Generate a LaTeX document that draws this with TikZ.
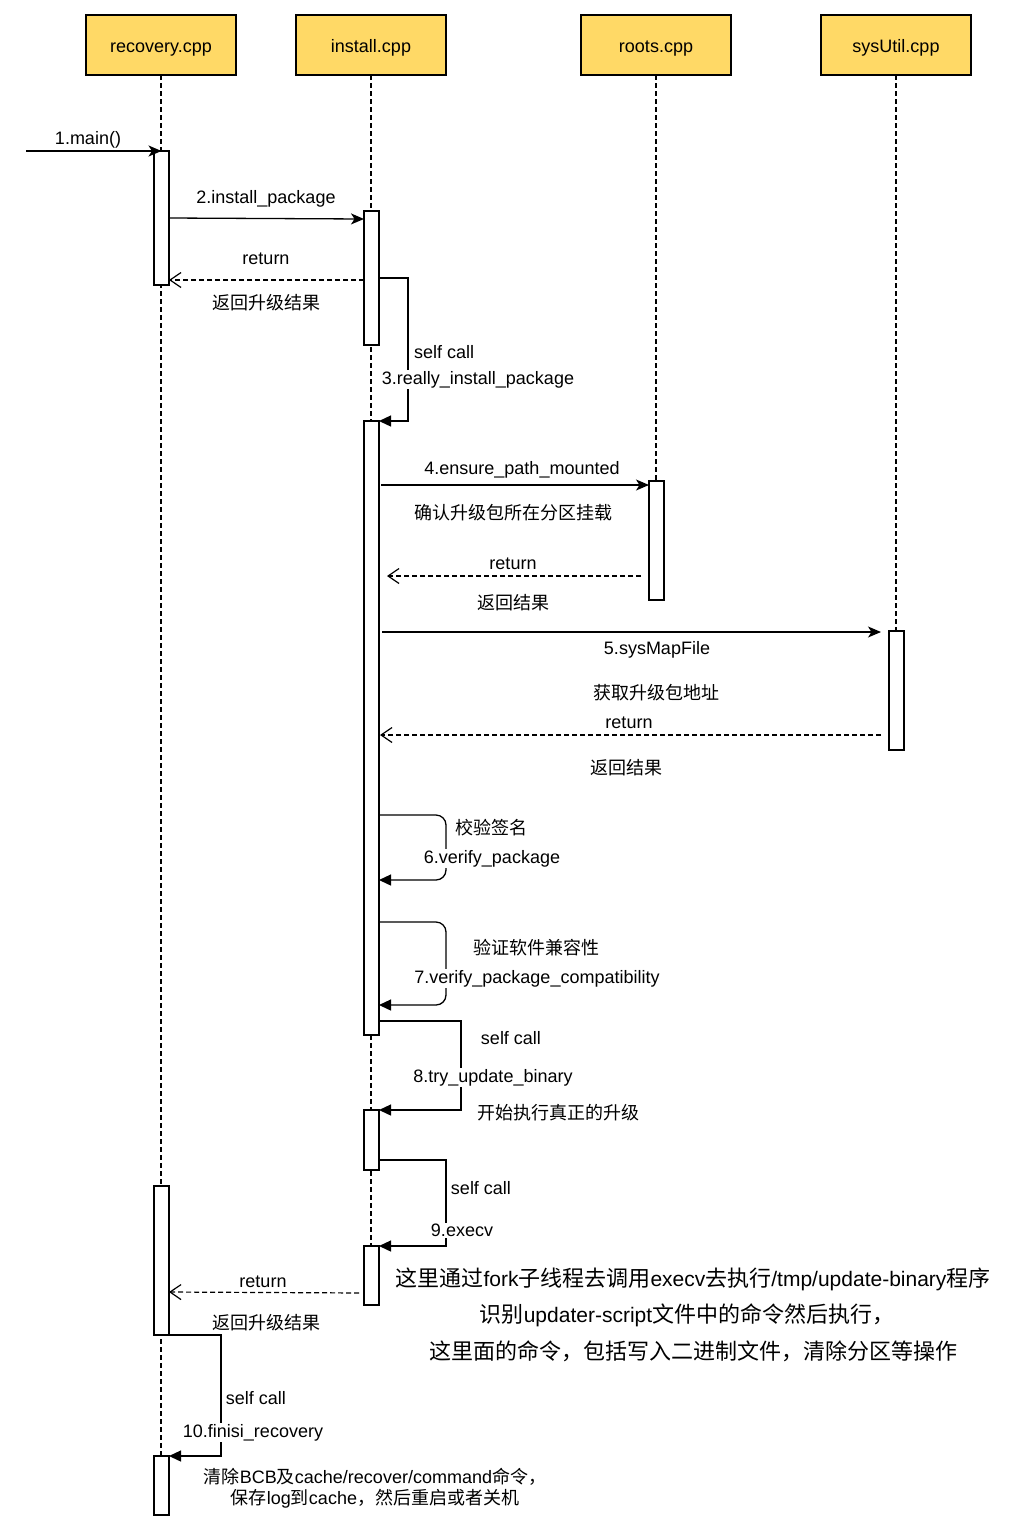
\documentclass[tikz,border=0pt]{standalone}
\usepackage{fontspec}
\setmainfont{Liberation Sans}
\newfontfamily\cjk{Noto Sans CJK SC}
\usetikzlibrary{arrows.meta}
\definecolor{headfill}{HTML}{FFD966}
\newcommand{\bigcjk}[1]{{\cjk\fontsize{22}{26}\selectfont #1}}
\tikzset{
  head/.style={draw, fill=headfill, line width=1.3pt, minimum width=150pt, minimum height=60pt, inner sep=0pt, outer sep=0pt, text height=15pt, text depth=0pt, font=\fontsize{18}{21}\selectfont},
  act/.style={draw, fill=white, line width=1.3pt, minimum width=15pt, inner sep=0pt, outer sep=0pt},
  life/.style={line width=1.2pt, dash pattern=on 5pt off 3pt},
  msgcall/.style={line width=1.3pt, -{Stealth[length=13pt,width=11pt,inset=3.5pt]}},
  retmsg/.style={line width=1.2pt, dash pattern=on 5pt off 3pt, -{Straight Barb[length=11pt,width=15pt,line width=1.2pt]}},
  selfmsg/.style={line width=1.3pt, -{Triangle[length=12pt,width=11pt]}},
  lbl/.style={inner sep=1pt, yshift=-1.5pt, font=\fontsize{18}{21}\selectfont},
  lblw/.style={lbl, fill=white},
  big/.style={inner sep=1pt, font=\fontsize{21}{25}\selectfont},
}
\begin{document}
\begin{tikzpicture}[x=1pt,y=-1pt]
\fill[white] (0,0) rectangle (1025,1532);
\useasboundingbox (0,0) rectangle (1025,1532);

% heads
\node[head] (rec) at (161,45) {recovery.cpp};
\node[head] (ins) at (371,45) {install.cpp};
\node[head] (roo) at (656,45) {roots.cpp};
\node[head] (sys) at (896,45) {sysUtil.cpp};

% lifelines
\draw[life] (rec.south) -- (rec.south |- 0,1515);
\draw[life] (ins.south) -- (ins.south |- 0,1305);
\draw[life] (roo.south) -- (roo.south |- 0,481);
\draw[life] (sys.south) -- (sys.south |- 0,631);

% activations
\node[act, minimum height=134pt] (A1) at (161.5,218) {};
\node[act, minimum height=134pt] (B1) at (371.5,278) {};
\node[act, minimum height=614pt] (B2) at (371.5,728) {};
\node[act, minimum height=119pt] (C1) at (656.5,540.5) {};
\node[act, minimum height=119pt] (D1) at (896.5,690.5) {};
\node[act, minimum height=60pt] (B3) at (371.5,1140) {};
\node[act, minimum height=59pt] (B4) at (371.5,1275.5) {};
\node[act, minimum height=149pt] (A2) at (161.5,1260.5) {};
\node[act, minimum height=59pt] (A3) at (161.5,1485.5) {};

% 1
\coordinate (start) at (26,151);
\draw[msgcall] (start) -- (A1.north);
\node[lbl] (l1) at (88,138) {1.main()};

% 2
\draw[msgcall] (A1.east |- 0,218) -- (B1.west |- 0,219);
\node[lbl] (l2) at (266,197) {2.install\_package};
\draw[retmsg] (B1.west |- 0,280) -- (A1.east |- 0,280);
\node[lbl] (l2r) at (266,257) {return};
\node[lbl] (l2c) at (266,301) {\cjk 返回升级结果};

% 3
\draw[selfmsg] (B1.east |- 0,278) -- ++(29,0) |- (B2.north east);
\node[lbl, anchor=west] (l3s) at (413,351) {self call};
\node[lblw] (l3) at (478,378) {3.really\_install\_package};

% 4
\draw[msgcall, shorten <=2pt] (B2.east |- 0,485) -- (C1.west |- 0,485);
\node[lbl] (l4) at (522,468) {4.ensure\_path\_mounted};
\node[lbl] (l4c) at (513,511) {\cjk 确认升级包所在分区挂载};
\draw[retmsg, shorten <=8pt, shorten >=8pt] (C1.west |- 0,576) -- (B2.east |- 0,576);
\node[lbl] (l4r) at (513,562) {return};
\node[lbl] (l4rc) at (513,601) {\cjk 返回结果};

% 5
\draw[msgcall, shorten <=3pt, shorten >=8pt] (B2.east |- 0,632) -- (D1.west |- 0,632);
\node[lbl] (l5) at (657,648) {5.sysMapFile};
\node[lbl] (l5c) at (656,691) {\cjk 获取升级包地址};
\draw[retmsg, shorten <=8pt, shorten >=1pt] (D1.west |- 0,735) -- (B2.east |- 0,735);
\node[lbl] (l5r) at (629,721) {return};
\node[lbl] (l5rc) at (626,766) {\cjk 返回结果};

% 6
\draw[selfmsg, rounded corners=10pt] (B2.east |- 0,815) -- ++(67,0) -- ++(0,65) -- (B2.east |- 0,880);
\node[lbl] (l6c) at (491,826) {\cjk 校验签名};
\node[lblw] (l6) at (492,857) {6.verify\_package};

% 7
\draw[selfmsg, rounded corners=10pt] (B2.east |- 0,922) -- ++(67,0) -- ++(0,83) -- (B2.east |- 0,1005);
\node[lbl] (l7c) at (536,946) {\cjk 验证软件兼容性};
\node[lblw] (l7) at (537,977) {7.verify\_package\_compatibility};

% 8
\draw[selfmsg] (B2.east |- 0,1021) -- ++(82,0) |- (B3.north east);
\node[lbl] (l8s) at (511,1037) {self call};
\node[lblw] (l8) at (493,1076) {8.try\_update\_binary};
\node[lbl] (l8c) at (558,1111) {\cjk 开始执行真正的升级};

% 9
\draw[selfmsg] (B3.east |- 0,1160) -- ++(67,0) |- (B4.north east);
\node[lbl] (l9s) at (481,1187) {self call};
\node[lblw] (l9) at (462,1229) {9.execv};
\draw[retmsg, shorten <=5pt] (B4.west |- 0,1293) -- (A2.east |- 0,1292);
\node[lbl] (l9r) at (263,1280) {return};
\node[lbl] (l9rc) at (266,1321) {\cjk 返回升级结果};

% big note
\node[big] (n1) at (693,1279) {\bigcjk{这里通过}fork\bigcjk{子线程去调用}execv\bigcjk{去执行}/tmp/update-binary\bigcjk{程序}};
\node[big] (n2) at (687,1315) {\bigcjk{识别}updater-script\bigcjk{文件中的命令然后执行，}};
\node[big] (n3) at (693,1351) {\bigcjk{这里面的命令，包括写入二进制文件，清除分区等操作}};

% 10
\draw[selfmsg] (A2.south east) -- ++(52,0) |- (A3.north east);
\node[lbl] (l10s) at (256,1397) {self call};
\node[lblw] (l10) at (253,1431) {10.finisi\_recovery};
\node[lbl, align=center, font=\fontsize{18}{21}\selectfont] (l10c) at (375,1487) {{\cjk 清除}BCB{\cjk 及}cache/recover/command{\cjk 命令，}\\{\cjk 保存}log{\cjk 到}cache{\cjk ，然后重启或者关机}};
\end{tikzpicture}
\end{document}
